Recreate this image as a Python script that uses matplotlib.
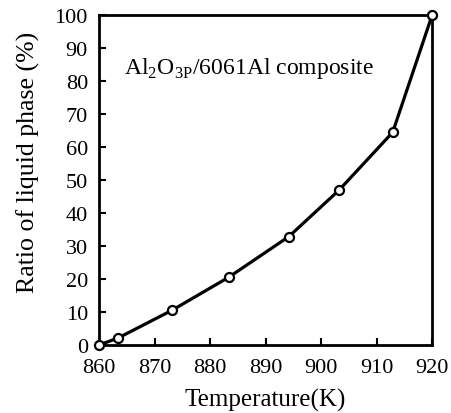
import matplotlib
matplotlib.use("Agg")
import matplotlib.pyplot as plt

# liquid phase ratio vs temperature
temperature_k = [860.0, 863.5, 873.2, 883.4, 894.2, 903.2, 912.9, 920.0]
liquid_pct = [0.0, 2.2, 10.6, 20.6, 32.9, 46.9, 64.5, 100.0]

x_ticks = [860, 870, 880, 890, 900, 910, 920]
y_ticks = [0, 10, 20, 30, 40, 50, 60, 70, 80, 90, 100]

plt.rcParams.update({
    "font.family": "Liberation Serif",
    "mathtext.fontset": "custom",
    "mathtext.rm": "Liberation Serif",
    "font.size": 16,
})

fig = plt.figure(figsize=(4.52, 4.14), dpi=100)
ax = fig.add_axes([0.219, 0.164, 0.737, 0.797])

ax.plot(temperature_k, liquid_pct, color="black", linewidth=2.3,
        marker="o", markersize=6.5, markerfacecolor="white",
        markeredgecolor="black", markeredgewidth=1.6, clip_on=False, zorder=3)

ax.set_xlim(860, 920)
ax.set_ylim(0, 100)
ax.set_xticks(x_ticks)
ax.set_yticks(y_ticks)
ax.tick_params(direction="in", length=5, width=1.5, labelsize=16)
ax.tick_params(axis="y", pad=8)
ax.tick_params(axis="x", pad=9)
for s in ax.spines.values():
    s.set_linewidth(2.0)

ax.set_xlabel("Temperature(K)", fontsize=18, labelpad=8)
ax.set_ylabel("Ratio of liquid phase (%)", fontsize=18.6)
ax.yaxis.set_label_coords(-0.177, 0.558)

ax.text(0.075, 0.825, r"Al$_\mathregular{2}$O$_\mathregular{3P}$/6061Al composite",
        transform=ax.transAxes, fontsize=17, ha="left", va="baseline")

fig.savefig("out.png", dpi=100)
